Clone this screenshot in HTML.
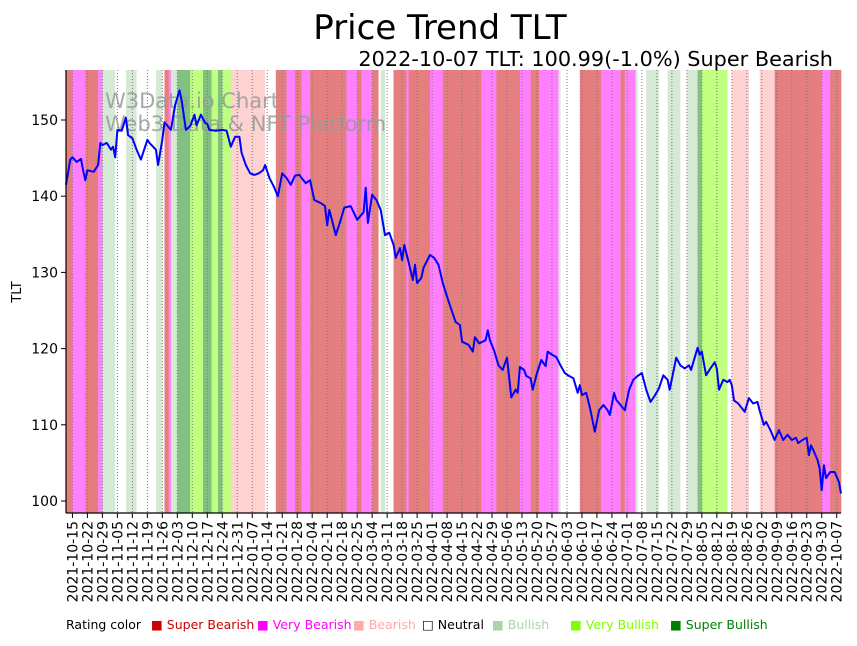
<!DOCTYPE html>
<html><head><meta charset="utf-8"><style>
body{margin:0;background:#fff;width:857px;height:641px;overflow:hidden}
svg text{font-family:"DejaVu Sans","Liberation Sans",sans-serif}
</style></head><body>
<svg id="chart" width="857" height="641" xmlns="http://www.w3.org/2000/svg">
<g id="bands"></g>
<g id="grid"></g>
<text x="105" y="108" font-size="21" fill="#999" fill-opacity="0.85">W3Data.io Chart</text>
<text x="105" y="131" font-size="21" fill="#999" fill-opacity="0.85">Web3 Data &amp; NFT Platform</text>
<path id="line" fill="none" stroke="#0000ff" stroke-width="2" stroke-linejoin="round"/>
<g id="axes"></g>
<text x="440" y="39" font-size="34" text-anchor="middle">Price Trend TLT</text>
<text x="833" y="66" font-size="20.8" text-anchor="end">2022-10-07 TLT: 100.99(-1.0%) Super Bearish</text>
<text transform="translate(21,292) rotate(-90)" font-size="13" text-anchor="middle">TLT</text>
<g font-size="12.5">
<text x="66" y="629" fill="#000">Rating color</text>
<text x="151" y="629" fill="#cc0000">■ Super Bearish</text>
<text x="257" y="629" fill="#ff00ff">■ Very Bearish</text>
<text x="353" y="629" fill="#ffaaaa">■ Bearish</text>
<text x="422" y="629" fill="#000">□ Neutral</text>
<text x="492" y="629" fill="#aad4aa">■ Bullish</text>
<text x="570" y="629" fill="#80ff00">■ Very Bullish</text>
<text x="670" y="629" fill="#008000">■ Super Bullish</text>
</g>
</svg>
<script>
const bandStarts=[-3,0,6,12,14,20,25,30,39,42,43,45,46,49,55,61,65,68,70,74,90,95,100,104,107,111,128,133,135,140,143,144,146,150,156,157,167,173,191,198,209,214,218,227,228,237,247,256,258,263,264,268,274,278,284,287,292,294,306,308,316,321,328,350,354];
const bandRatings=["SB","VB","SB","VB","B","N","B","N","B","N","SB","VB","B","SU","VU","SU","VU","SU","VU","BE","N","SB","VB","SB","VB","SB","VB","SB","VB","SB","N","B","N","SB","VB","SB","VB","SB","VB","SB","VB","SB","VB","B","N","SB","VB","SB","VB","B","N","B","N","B","N","B","SU","VU","N","BE","N","BE","SB","VB","SB"];
const dayIdx=[-3,-1,0,2,4,5,6,7,10,12,13,14,16,18,19,20,21,23,25,26,28,30,32,35,36,39,40,42,43,46,48,50,51,53,55,57,58,60,62,63,64,67,70,72,74,76,78,79,81,83,85,87,89,90,92,94,96,98,100,102,104,106,107,109,111,113,116,118,119,120,121,123,125,127,130,133,136,137,138,140,142,144,146,148,150,151,153,154,155,157,159,160,161,163,164,167,169,171,173,175,177,179,181,182,185,187,188,190,193,194,195,197,199,201,203,205,207,208,209,211,212,214,215,217,219,221,222,224,226,228,230,232,234,236,237,238,240,242,244,246,248,250,251,253,254,256,258,260,262,264,266,268,270,272,274,276,278,279,282,284,286,288,289,290,292,293,294,296,298,300,301,302,304,306,307,308,309,311,314,316,318,320,321,323,324,326,328,330,332,334,336,338,339,341,343,344,345,346,348,349,350,351,352,354,356,358,359];
const prices=[141.5,144.8,145.1,144.5,144.9,143.4,142.1,143.4,143.2,144.1,147.0,146.7,147.0,146.1,146.5,145.1,148.7,148.6,150.3,148.0,147.6,146.1,144.8,147.4,147.0,146.1,144.1,147.4,149.7,148.7,152.0,153.9,152.6,148.7,149.2,150.7,149.3,150.7,149.6,149.5,148.7,148.6,148.7,148.6,146.5,147.8,147.8,145.7,144.1,143.0,142.8,143.0,143.4,144.1,142.4,141.3,140.0,143.0,142.4,141.5,142.7,142.8,142.4,141.7,142.1,139.5,139.1,138.7,136.2,138.2,137.1,134.9,136.6,138.5,138.7,136.9,137.9,141.1,136.5,140.2,139.5,138.2,134.9,135.2,133.6,131.9,133.2,131.6,133.6,131.4,129.0,131.0,128.6,129.3,130.6,132.3,131.9,131.0,128.6,126.8,125.1,123.5,123.1,120.9,120.5,119.6,121.5,120.7,121.1,122.4,121.1,119.7,117.8,117.2,118.8,113.6,114.6,114.2,117.6,117.2,116.4,116.1,114.6,116.8,118.5,117.7,119.6,119.2,118.9,117.8,116.8,116.4,116.1,114.2,115.2,113.9,114.2,111.9,109.1,111.9,112.6,111.9,111.3,114.2,113.3,112.6,111.9,114.6,115.9,116.4,116.8,114.6,113.0,113.8,114.8,116.5,115.9,114.6,118.8,117.8,117.4,117.8,117.2,118.2,120.1,119.2,119.6,116.5,117.4,118.2,117.4,114.6,115.9,115.6,115.9,115.2,113.2,112.8,111.7,113.5,112.8,113.0,111.9,110.0,110.4,109.3,108.0,109.3,108.0,108.7,108.0,108.3,107.6,108.0,108.3,106.0,107.3,106.7,105.4,104.3,101.4,104.7,103.0,103.8,103.8,102.5,101.0];
const yTicks=[100,110,120,130,140,150];
const bandColors={SB:"#e57f7f",VB:"#ff80ff",BE:"#ffd2d2",N:"#ffffff",B:"#d5e9d5",VU:"#c0ff80",SU:"#80c080"};
const NS="http://www.w3.org/2000/svg";
const L=66,R=841,T=70,B=513,D0=-3,D1=359,start=new Date(Date.UTC(2021,9,15));
const xs=d=>L+(d-D0)*(R-L)/(D1-D0);
const ys=v=>120+(150-v)*7.62;
function mk(tag,attrs,parent){const e=document.createElementNS(NS,tag);for(const k in attrs)e.setAttribute(k,attrs[k]);parent.appendChild(e);return e;}
const bands=document.getElementById('bands');
for(let i=0;i<bandStarts.length;i++){
 const s=bandStarts[i],e=i+1<bandStarts.length?bandStarts[i+1]:D1;
 const r=mk('rect',{x:xs(s),y:T,width:xs(e)-xs(s)+0.3,height:B-T,fill:bandColors[bandRatings[i]]},bands);
 
 
}
const grid=document.getElementById('grid'),axes=document.getElementById('axes');
for(let d=0;d<=D1;d+=7){
 const x=xs(d);
 const g=mk('line',{x1:x,x2:x,y1:T,y2:B,stroke:"#777","stroke-width":1,"stroke-dasharray":"1,2"},grid);
 
 
 mk('line',{x1:x,x2:x,y1:B,y2:B+5,stroke:"#000"},axes);
 const dt=new Date(start.getTime()+d*86400000);
 const t=mk('text',{transform:`translate(${x+5},${B+8}) rotate(-90)`,"font-size":14,"text-anchor":"end"},axes);
 t.textContent=dt.toISOString().slice(0,10);
 
 
}
yTicks.forEach(v=>{
 const y=ys(v);
 mk('line',{x1:L-5,x2:L,y1:y,y2:y,stroke:"#000"},axes);
 const t=mk('text',{x:L-8,y:y+5,"font-size":14,"text-anchor":"end"},axes);
 t.textContent=v;
 
 
});
mk('line',{x1:L,x2:L,y1:T,y2:B,stroke:"#000","stroke-width":1.2},axes);
mk('line',{x1:L,x2:R,y1:B,y2:B,stroke:"#000","stroke-width":1.2},axes);
document.getElementById('line').setAttribute('d',dayIdx.map((d,i)=>(i?'L':'M')+xs(d).toFixed(1)+','+ys(prices[i]).toFixed(1)).join(''));
</script>
</body></html>
